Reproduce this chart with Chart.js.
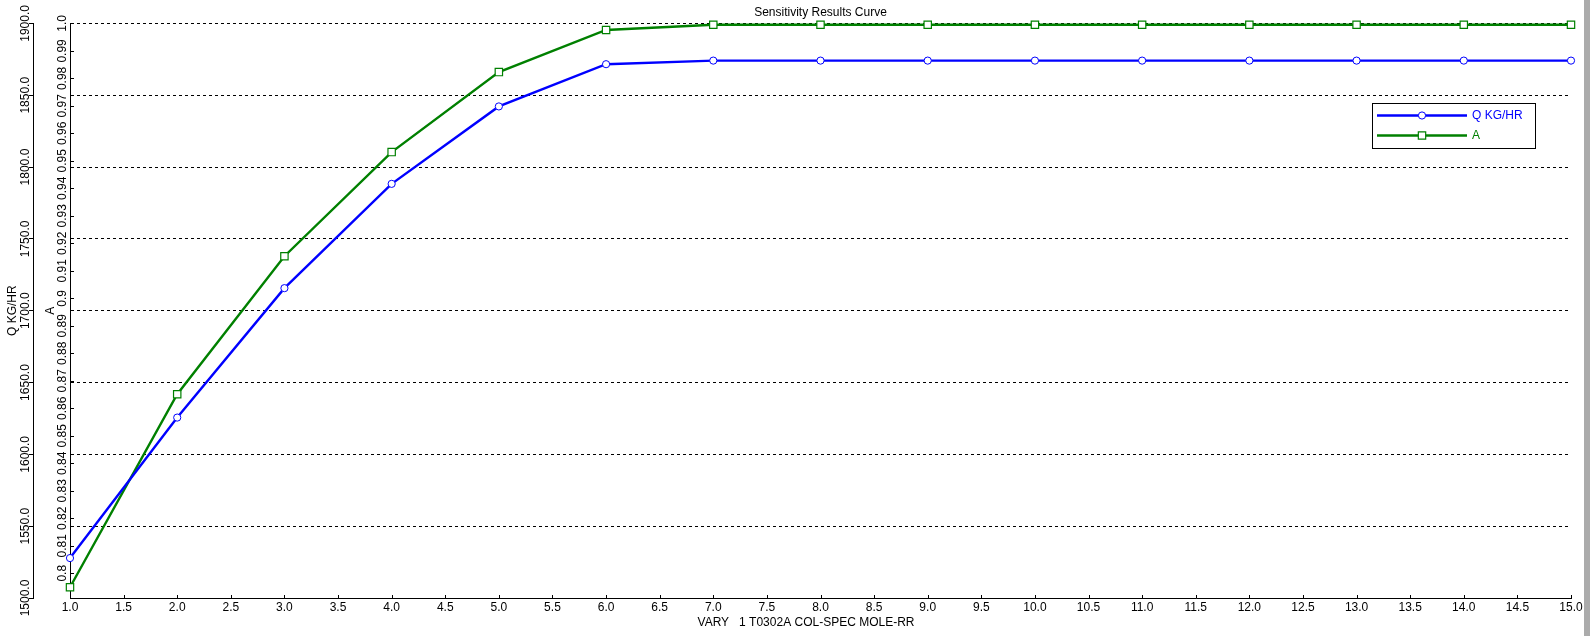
<!DOCTYPE html>
<html><head><meta charset="utf-8">
<script src="https://cdn.jsdelivr.net/npm/chart.js@4.4.1/dist/chart.umd.min.js"></script>
<style>
html,body{margin:0;padding:0;background:#fff;overflow:hidden;}
#wrap{position:relative;width:1590px;height:636px;}
canvas{display:block;}
#sb{position:absolute;left:1584px;top:0;width:6px;height:636px;background:#ababab;}
</style></head><body>
<div id="wrap"><canvas id="c" width="1590" height="636"></canvas><div id="sb"></div></div>
<script>
const chartTitle = 'Sensitivity Results Curve';
const xTitle = 'VARY   1 T0302A COL-SPEC MOLE-RR';
const qLabel = 'Q KG/HR';
const aLabel = 'A';

const xVals = [1, 2, 3, 4, 5, 6, 7, 8, 9, 10, 11, 12, 13, 14, 15];
const qVals = [1527.8, 1625.6, 1715.7, 1788.3, 1842.2, 1871.6, 1874.1, 1874.1, 1874.1, 1874.1, 1874.1, 1874.1, 1874.1, 1874.1, 1874.1];
const aVals = [0.7949, 0.8651, 0.9153, 0.9532, 0.9823, 0.9976, 0.9995, 0.9995, 0.9995, 0.9995, 0.9995, 0.9995, 0.9995, 0.9995, 0.9995];

const xTicks = [1.0, 1.5, 2.0, 2.5, 3.0, 3.5, 4.0, 4.5, 5.0, 5.5, 6.0, 6.5, 7.0, 7.5, 8.0, 8.5, 9.0, 9.5, 10.0, 10.5, 11.0, 11.5, 12.0, 12.5, 13.0, 13.5, 14.0, 14.5, 15.0];
const qTicks = [1500, 1550, 1600, 1650, 1700, 1750, 1800, 1850, 1900];
const aTicks = [0.80, 0.81, 0.82, 0.83, 0.84, 0.85, 0.86, 0.87, 0.88, 0.89, 0.90, 0.91, 0.92, 0.93, 0.94, 0.95, 0.96, 0.97, 0.98, 0.99, 1.00];

const FONT = '"Liberation Sans", Arial, sans-serif';
Chart.defaults.font.family = FONT;
Chart.defaults.font.size = 12;
Chart.defaults.color = '#000';

function fmtA(v) {
  const s = String(Math.round(v * 100) / 100);
  return s.includes('.') ? s : s + '.0';
}

const extras = {
  id: 'extras',
  afterDraw(chart) {
    const ctx = chart.ctx;
    const xs = chart.scales.x, as = chart.scales.a;
    ctx.save();
    ctx.strokeStyle = '#000';
    ctx.lineWidth = 1;
    ctx.beginPath();
    aTicks.forEach(v => {
      const y = Math.round(as.getPixelForValue(v)) + 0.5;
      ctx.moveTo(Math.round(as.right) + 0.5, y);
      ctx.lineTo(Math.round(as.right) + 4, y);
    });
    xTicks.forEach(v => {
      const x = Math.round(xs.getPixelForValue(v)) + 0.5;
      ctx.moveTo(x, Math.round(xs.top) + 0.5);
      ctx.lineTo(x, Math.round(xs.top) - 3);
    });
    ctx.stroke();

    ctx.fillStyle = '#000';
    ctx.font = '12px ' + FONT;
    ctx.textAlign = 'center';
    ctx.textBaseline = 'middle';
    ctx.fillText(xTitle, 806, 623);

    const lx = 1372.5, ly = 103.5, lw = 163, lh = 45;
    ctx.fillStyle = '#fff';
    ctx.fillRect(lx, ly, lw, lh);
    ctx.strokeStyle = '#000';
    ctx.lineWidth = 1;
    ctx.strokeRect(lx, ly, lw, lh);
    chart.data.datasets.forEach((ds, i) => {
      const y = 115.5 + i * 20;
      ctx.strokeStyle = ds.borderColor;
      ctx.lineWidth = ds.borderWidth;
      ctx.beginPath();
      ctx.moveTo(1377, y);
      ctx.lineTo(1467, y);
      ctx.stroke();
      ctx.fillStyle = '#fff';
      ctx.strokeStyle = ds.borderColor;
      ctx.lineWidth = ds.pointBorderWidth;
      Chart.helpers.drawPoint(ctx, {pointStyle: ds.pointStyle, radius: ds.pointRadius, borderWidth: ds.pointBorderWidth, rotation: 0}, 1422, y);
      ctx.fillStyle = ds.borderColor;
      ctx.font = '12px ' + FONT;
      ctx.textAlign = 'left';
      ctx.textBaseline = 'middle';
      ctx.fillText(ds.label, 1472, y + 0.5);
    });
    ctx.restore();
  }
};

new Chart(document.getElementById('c'), {
  type: 'line',
  data: {
    datasets: [
      {
        label: qLabel,
        yAxisID: 'q',
        data: xVals.map((x, i) => ({x: x, y: qVals[i]})),
        borderColor: '#0000ff',
        backgroundColor: '#ffffff',
        borderWidth: 2.4,
        pointStyle: 'circle',
        pointRadius: 3.6,
        pointBorderWidth: 1,
        pointBackgroundColor: '#ffffff',
        pointBorderColor: '#0000ff',
        tension: 0,
        clip: false
      },
      {
        label: aLabel,
        yAxisID: 'a',
        data: xVals.map((x, i) => ({x: x, y: aVals[i]})),
        borderColor: '#008000',
        backgroundColor: '#ffffff',
        borderWidth: 2.4,
        pointStyle: 'rect',
        pointRadius: 5.2,
        pointBorderWidth: 1.2,
        pointBackgroundColor: '#ffffff',
        pointBorderColor: '#008000',
        tension: 0,
        clip: false
      }
    ]
  },
  options: {
    responsive: false,
    animation: false,
    events: [],
    layout: { padding: { left: 0, right: 19, top: 0, bottom: 0 } },
    plugins: {
      legend: { display: false },
      tooltip: { enabled: false },
      title: {
        display: true,
        text: chartTitle,
        fullSize: false,
        color: '#000',
        font: { size: 12, weight: 'normal' },
        padding: { top: 5, bottom: 4 }
      }
    },
    scales: {
      x: {
        type: 'linear',
        position: 'bottom',
        min: 1,
        max: 15,
        afterBuildTicks: s => { s.ticks = xTicks.map(v => ({value: v})); },
        afterFit: s => { s.height = 38; },
        ticks: { autoSkip: false, minRotation: 0, maxRotation: 0, padding: -6, color: '#000', callback: v => Number(v).toFixed(1) },
        grid: { display: false },
        border: { display: true, color: '#000', width: 1 }
      },
      q: {
        type: 'linear',
        position: 'left',
        weight: 1,
        min: 1500,
        max: 1900,
        afterBuildTicks: s => { s.ticks = qTicks.map(v => ({value: v})); },
        afterFit: s => { s.width = 33; },
        ticks: { autoSkip: false, minRotation: 90, maxRotation: 90, crossAlign: 'center', padding: -15, color: '#000', callback: v => Number(v).toFixed(1) },
        grid: { display: true, drawOnChartArea: true, drawTicks: true, tickLength: 4, color: '#000', lineWidth: 1, tickColor: '#000', tickBorderDash: [] },
        border: { display: true, color: '#000', width: 1, dash: [3, 3] },
        title: { display: true, text: qLabel, color: '#000', font: { size: 12 }, padding: { top: 5, bottom: 0 } }
      },
      a: {
        type: 'linear',
        position: 'left',
        weight: 0,
        min: 0.791,
        max: 1.0,
        afterBuildTicks: s => { s.ticks = aTicks.map(v => ({value: v})); },
        afterFit: s => { s.width = 37; },
        ticks: { autoSkip: false, minRotation: 90, maxRotation: 90, crossAlign: 'center', padding: -12, color: '#000', callback: v => fmtA(v) },
        grid: { display: false },
        border: { display: true, color: '#000', width: 1 },
        title: { display: true, text: aLabel, color: '#000', font: { size: 12 }, padding: { top: 10, bottom: 0 } }
      }
    }
  },
  plugins: [extras]
});
</script>
</body></html>
